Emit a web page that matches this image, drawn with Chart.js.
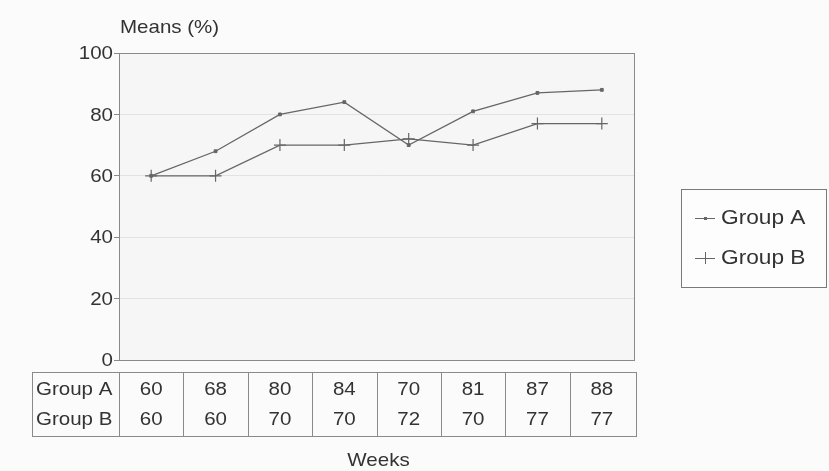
<!DOCTYPE html>
<html>
<head>
<meta charset="utf-8">
<script src="https://cdn.jsdelivr.net/npm/chart.js@4/dist/chart.umd.min.js"></script>
<style>
  html, body { margin: 0; padding: 0; background: #fbfbfb; }
  #wrap { width: 829px; height: 471px; }
</style>
</head>
<body>
<div id="wrap"><canvas id="meansChart" width="829" height="471"></canvas></div>
<script>
// data
const weeks = ['1', '2', '3', '4', '5', '6', '7', '8'];
const groupA = [60, 68, 80, 84, 70, 81, 87, 88];
const groupB = [60, 60, 70, 70, 72, 70, 77, 77];
const yTicks = [0, 20, 40, 60, 80, 100];

const FONT = '"Liberation Sans", Arial, sans-serif';
const INK = '#333333';
const LINE = '#666666';
const WIDEN = 1.08; // the scanned lettering is a little wide

// text drawn slightly wider than the font, like the scan
function wideText(ctx, str, x, y, align, size) {
  ctx.save();
  ctx.translate(x, y);
  ctx.scale(WIDEN, 1);
  ctx.font = size + 'px ' + FONT;
  ctx.textAlign = align;
  ctx.textBaseline = 'middle';
  ctx.fillStyle = INK;
  ctx.fillText(str, 0, 0);
  ctx.restore();
}

// draws background, frame, labels, data table, legend and axis title
const extras = {
  id: 'extras',
  beforeDraw(chart) {
    const { ctx, chartArea: a } = chart;
    ctx.save();
    ctx.fillStyle = '#fbfbfb';
    ctx.fillRect(0, 0, chart.width, chart.height);
    ctx.fillStyle = '#f6f6f6';
    ctx.fillRect(a.left, a.top, a.right - a.left, a.bottom - a.top);
    ctx.restore();
  },
  afterDraw(chart) {
    const { ctx, chartArea: a } = chart;
    const x = chart.scales.x;
    const y = chart.scales.y;
    ctx.save();

    // plot frame
    ctx.strokeStyle = '#8a8a8a';
    ctx.lineWidth = 1;
    ctx.strokeRect(a.left + 0.5, a.top + 0.5, a.right - a.left, a.bottom - a.top);

    // value axis labels and title
    yTicks.forEach(v => wideText(ctx, String(v), a.left - 6, y.getPixelForValue(v) + 1, 'right', 19));
    wideText(ctx, 'Means (%)', a.left + 1, 28, 'left', 19);

    // data table
    const step = x.getPixelForValue(1) - x.getPixelForValue(0);
    const tLeft = 32, tTop = a.bottom + 12, rowH = 30;
    const tRight = x.getPixelForValue(weeks.length - 1) + step / 2 + 2;
    const rows = [['Group A', groupA], ['Group B', groupB]];
    ctx.strokeStyle = '#8a8a8a';
    ctx.strokeRect(tLeft + 0.5, tTop + 0.5, tRight - tLeft, rowH * 2 + 4);
    for (let i = 0; i < weeks.length; i++) {
      const bx = Math.round(x.getPixelForValue(i) - step / 2) + 0.5;
      ctx.beginPath();
      ctx.moveTo(bx, tTop);
      ctx.lineTo(bx, tTop + rowH * 2 + 4);
      ctx.stroke();
    }
    rows.forEach(([name, vals], r) => {
      const cy = tTop + 18 + r * rowH;
      wideText(ctx, name, tLeft + 4, cy, 'left', 19);
      vals.forEach((v, i) => wideText(ctx, String(v), x.getPixelForValue(i), cy, 'center', 19));
    });

    // category axis title
    wideText(ctx, 'Weeks', (a.left + a.right) / 2 + 2, 461, 'center', 19);

    // legend box
    const lx = 681, ly = 189, lw = 145, lh = 98;
    ctx.fillStyle = '#fdfdfd';
    ctx.fillRect(lx, ly, lw, lh);
    ctx.strokeStyle = '#7a7a7a';
    ctx.strokeRect(lx + 0.5, ly + 0.5, lw, lh);
    chart.data.datasets.forEach((ds, i) => {
      const cy = ly + 29 + i * 40;
      ctx.strokeStyle = LINE;
      ctx.lineWidth = 1;
      ctx.beginPath();
      ctx.moveTo(695, cy + 0.5);
      ctx.lineTo(715, cy + 0.5);
      ctx.stroke();
      if (i === 0) {
        ctx.fillStyle = LINE;
        ctx.fillRect(704, cy - 1, 3, 3);
      } else {
        ctx.beginPath();
        ctx.moveTo(705.5, cy - 6);
        ctx.lineTo(705.5, cy + 6);
        ctx.stroke();
      }
      wideText(ctx, ds.label, 721, cy, 'left', 21);
    });

    ctx.restore();
  }
};

new Chart(document.getElementById('meansChart'), {
  type: 'line',
  data: {
    labels: weeks,
    datasets: [
      {
        label: 'Group A',
        data: groupA,
        borderColor: LINE,
        backgroundColor: LINE,
        borderWidth: 1.3,
        pointStyle: 'rect',
        pointRadius: 2,
        pointBorderWidth: 1,
        tension: 0
      },
      {
        label: 'Group B',
        data: groupB,
        borderColor: LINE,
        backgroundColor: LINE,
        borderWidth: 1.3,
        pointStyle: 'cross',
        pointRadius: 6,
        pointBorderWidth: 1.2,
        tension: 0
      }
    ]
  },
  options: {
    responsive: false,
    animation: false,
    layout: { padding: { top: 53, right: 195, bottom: 111, left: 0 } },
    plugins: {
      legend: { display: false },
      tooltip: { enabled: false }
    },
    scales: {
      x: {
        display: false,
        offset: true
      },
      y: {
        min: 0,
        max: 100,
        afterFit: (s) => { s.width = 119; },
        afterBuildTicks: (s) => { s.ticks = yTicks.map(v => ({ value: v })); },
        border: { display: false },
        grid: {
          color: '#e2e2e2',
          borderDash: [2, 3],
          tickLength: 5,
          tickColor: '#8a8a8a',
          tickBorderDash: []
        },
        ticks: { display: false }
      }
    }
  },
  plugins: [extras]
});
</script>
</body>
</html>
